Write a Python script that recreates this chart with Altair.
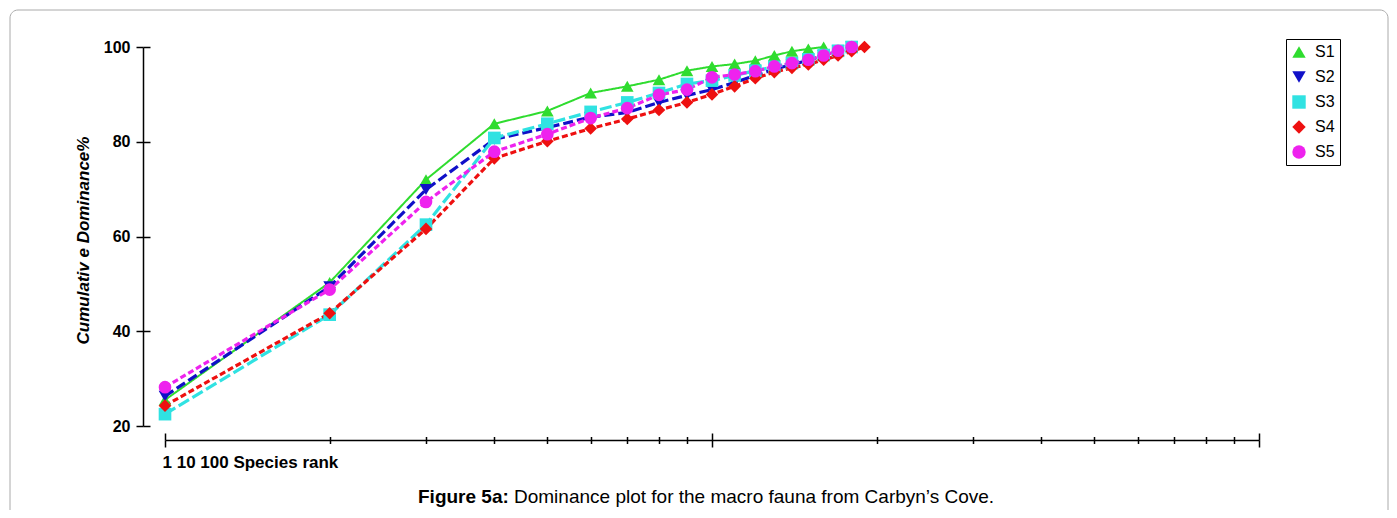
import altair as alt
import pandas as pd

# ---- data ----
series_names = ["S1", "S2", "S3", "S4", "S5"]
s1 = [25.5, 50.3, 72.0, 83.8, 86.5, 90.3, 91.7, 93.1, 95.0, 95.9, 96.4, 97.1, 98.2, 99.1, 99.6, 100.0]
s2 = [26.3, 49.4, 69.9, 80.5, 83.0, 85.2, 86.2, 88.3, 89.8, 91.0, 92.5, 94.0, 95.3, 96.3, 97.2, 98.2, 99.2, 100.0]
s3 = [22.5, 43.5, 62.5, 80.8, 83.8, 86.3, 88.3, 90.3, 92.2, 92.9, 94.0, 95.0, 95.8, 96.6, 97.4, 98.3, 99.2, 100.0]
s4 = [24.3, 43.8, 61.6, 76.5, 80.1, 82.8, 84.8, 86.7, 88.3, 90.0, 91.7, 93.4, 94.7, 95.6, 96.3, 97.3, 98.2, 99.1, 100.0]
s5 = [28.2, 48.8, 67.3, 77.9, 81.6, 85.0, 87.1, 89.9, 91.0, 93.6, 94.2, 94.9, 95.9, 96.6, 97.3, 98.2, 99.2, 100.0]

major_ticks = [1, 10, 100]
minor_ticks = [2, 3, 4, 5, 6, 7, 8, 9, 20, 30, 40, 50, 60, 70, 80, 90]
y_ticks = [20, 40, 60, 80, 100]

x_title = "1 10 100 Species rank"
y_title = "Cumulativ e Dominance%"
caption_bold = ["Figure 5a:"]
caption_rest = ["Dominance plot for the macro fauna from Carbyn\u2019s Cove."]

# ---- styles ----
colors = ["#2fdc2f", "#1010c8", "#30e2e2", "#ee1010", "#ee22ee"]
shapes = ["triangle-up", "triangle-down", "square", "diamond", "circle"]
dashes = [[1, 0], [10, 4], [12, 4], [6, 3], [6, 3]]
widths = [2, 3.2, 3.2, 3.2, 3.2]
FONT = "Liberation Sans"

rows = []
for name, vals in zip(series_names, [s1, s2, s3, s4, s5]):
    for i, v in enumerate(vals, start=1):
        rows.append({"series": name, "rank": i, "value": v})
df = pd.DataFrame(rows)

xscale = alt.Scale(type="log", domain=[1, 100], nice=False)
yscale = alt.Scale(domain=[20, 100], nice=False, zero=False)

legend = alt.Legend(
    title=None, orient="none", legendX=1121, legendY=-8,
    strokeColor="black", padding=5, rowPadding=9,
    labelFont=FONT, labelFontSize=16, labelColor="black", labelOffset=8,
    symbolSize=180, symbolStrokeWidth=0,
)

ticks_style = dict(grid=False, tickColor="black", tickWidth=1.5)
domain_style = dict(domainColor="black", domainWidth=1.5)

# one line layer per series (fixed style, no scales for legend)
line_layers = []
for name, col, dash, w in zip(series_names, colors, dashes, widths):
    line_layers.append(
        alt.Chart(df).transform_filter(alt.datum.series == name).mark_line(
            color=col, strokeDash=dash, strokeWidth=w
        ).encode(
            x=alt.X("rank:Q", scale=xscale, axis=None),
            y=alt.Y("value:Q", scale=yscale, axis=None),
        )
    )

points = alt.Chart(df).mark_point(filled=True, opacity=1, size=160).encode(
    x=alt.X("rank:Q", scale=xscale, axis=None),
    y=alt.Y("value:Q", scale=yscale, axis=None),
    color=alt.Color("series:N", scale=alt.Scale(domain=series_names, range=colors), legend=legend),
    shape=alt.Shape("series:N", scale=alt.Scale(domain=series_names, range=shapes), legend=legend),
)

# invisible layers that carry the axes (ticks on both sides of the axis lines)
axes_main = alt.Chart(df).mark_point(opacity=0).encode(
    x=alt.X("rank:Q", scale=xscale, axis=alt.Axis(
        orient="bottom", offset=14, values=major_ticks, labels=False, tickSize=7,
        title=x_title, titleX=-3, titleY=27.5, titleAnchor="start", titleAlign="left",
        titleBaseline="alphabetic", titleFont=FONT, titleFontSize=17, titleFontWeight="bold",
        titleColor="black", **ticks_style, **domain_style)),
    y=alt.Y("value:Q", scale=yscale, axis=alt.Axis(
        orient="left", offset=22, values=y_ticks, tickSize=7, labelPadding=6,
        labelFont=FONT, labelFontSize=16, labelFontWeight="bold", labelColor="black",
        title=y_title, titleX=-60, titleY=193, titleAngle=270, titleAlign="center",
        titleBaseline="middle", titleFont=FONT, titleFontSize=17, titleFontStyle="italic",
        titleFontWeight="bold", titleColor="black", **ticks_style, **domain_style)),
)
axes_minor = alt.Chart(df).mark_point(opacity=0).encode(
    x=alt.X("rank:Q", scale=xscale, axis=alt.Axis(
        orient="bottom", offset=14, values=minor_ticks, labels=False, tickSize=3.5,
        domain=False, title=None, **ticks_style)),
    y=alt.Y("value:Q", scale=yscale, axis=alt.Axis(
        orient="right", offset=-1116, values=y_ticks, labels=False, tickSize=7,
        domain=False, title=None, **ticks_style)),
)
top_major = alt.Chart(df).mark_point(opacity=0).encode(
    x=alt.X("rank:Q", scale=xscale, axis=alt.Axis(
        orient="top", offset=-393, values=major_ticks, labels=False, tickSize=7,
        domain=False, title=None, **ticks_style)),
    y=alt.Y("value:Q", scale=yscale, axis=None),
)
top_minor = alt.Chart(df).mark_point(opacity=0).encode(
    x=alt.X("rank:Q", scale=xscale, axis=alt.Axis(
        orient="top", offset=-393, values=minor_ticks, labels=False, tickSize=3.5,
        domain=False, title=None, **ticks_style)),
    y=alt.Y("value:Q", scale=yscale, axis=None),
)

frame = alt.Chart(pd.DataFrame({"k": [0]})).mark_rect(
    fillOpacity=0, stroke="#aaaaaa", strokeWidth=1, cornerRadius=8
).encode(x=alt.value(-155), x2=alt.value(1223), y=alt.value(-37), y2=alt.value(480))

cap1 = alt.Chart(pd.DataFrame({"t": caption_bold})).mark_text(
    align="left", baseline="alphabetic", font=FONT, fontSize=19, fontWeight="bold", color="black"
).encode(x=alt.value(253), y=alt.value(456), text="t:N")
cap2 = alt.Chart(pd.DataFrame({"t": caption_rest})).mark_text(
    align="left", baseline="alphabetic", font=FONT, fontSize=19, color="black"
).encode(x=alt.value(349), y=alt.value(456), text="t:N")

chart = alt.layer(
    frame, *line_layers, points, axes_main, axes_minor, top_major, top_minor, cap1, cap2
).resolve_axis(
    x="independent", y="independent"
).properties(
    width=1094, height=379, background="white",
    padding={"left": 157, "top": 39, "right": 130, "bottom": 84},
    autosize=alt.AutoSizeParams(type="none"),
).configure_view(strokeWidth=0)

chart.save("out.html", embed_options={"renderer": "svg", "actions": False})
